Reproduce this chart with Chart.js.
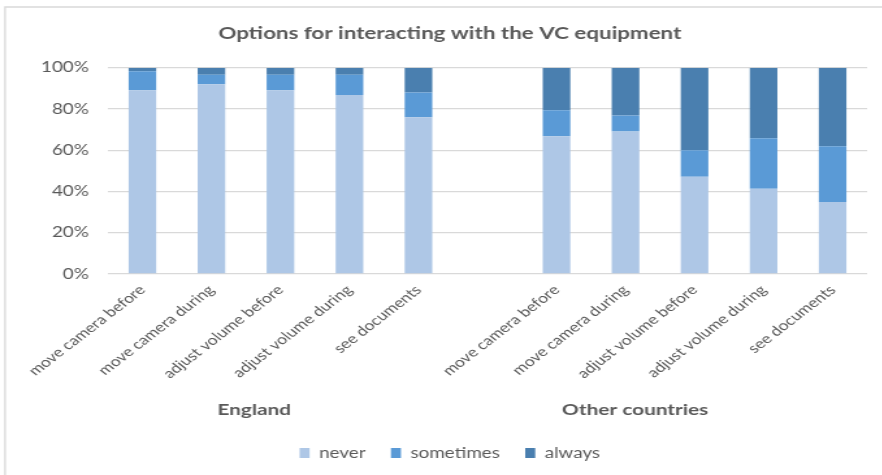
<!DOCTYPE html>
<html>
<head>
<meta charset="utf-8">
<script src="https://cdn.jsdelivr.net/npm/chart.js@4"></script>
<style>
  html, body { margin: 0; padding: 0; background: #fff; overflow: hidden; }
  #wrap { width: 882px; height: 475px; overflow: hidden; }
  /* the reference picture is a widened screenshot, so stretch the canvas the same way */
  #vc-chart { transform: scaleX(1.3); transform-origin: 0 0; }
</style>
</head>
<body>
<div id="wrap"><canvas id="vc-chart" width="692" height="475"></canvas></div>
<script>
// categories (blank slot separates the two groups)
const categories = [
    'move camera before', 'move camera during', 'adjust volume before', 'adjust volume during', 'see documents',
    '',
    'move camera before', 'move camera during', 'adjust volume before', 'adjust volume during', 'see documents'
];
const groups = ['England', 'Other countries'];

// percentages
const never     = [89.0, 92.0, 89.0, 86.7, 76.0, null, 66.7, 69.0, 47.1, 41.3, 34.9];
const sometimes = [ 9.2,  4.6,  7.6,  9.9, 11.9, null, 12.7,  7.8, 12.9, 24.5, 27.0];
const always    = [ 1.8,  3.4,  3.4,  3.4, 12.1, null, 20.6, 23.2, 40.0, 34.2, 38.1];

const yTicks = [0, 20, 40, 60, 80, 100];

const grey = '#595959';
const font = 'Lato, "Open Sans", sans-serif';

// frame lines + group labels under the rotated category labels
const extras = {
    id: 'extras',
    beforeDraw(chart) {
        const c = chart.ctx;
        c.save();
        c.strokeStyle = '#d9d9d9';
        c.lineWidth = 1.3;
        c.beginPath();
        c.moveTo(3.9, chart.height);
        c.lineTo(3.9, 7);
        c.lineTo(chart.width, 7);
        c.stroke();
        c.restore();
    },
    afterDraw(chart) {
        const x = chart.scales.x;
        const c = chart.ctx;
        const at = [1.62, 7.14]; // where the group labels sit, in category units
        c.save();
        c.fillStyle = grey;
        c.font = 'bold 16px ' + font;
        c.textAlign = 'center';
        c.textBaseline = 'middle';
        groups.forEach((g, i) => c.fillText(g, x.getPixelForValue(at[i]), 410));
        c.restore();
    }
};

const ctx = document.getElementById('vc-chart').getContext('2d');
new Chart(ctx, {
    type: 'bar',
    data: {
        labels: categories,
        datasets: [
            { label: 'never', data: never, backgroundColor: '#aec7e6' },
            { label: 'sometimes', data: sometimes, backgroundColor: '#5a9ad6' },
            { label: 'always', data: always, backgroundColor: '#4a7faf' }
        ]
    },
    options: {
        responsive: false,
        animation: false,
        layout: { padding: { left: 25, right: 25, top: 0, bottom: 4.75 } },
        datasets: { bar: { categoryPercentage: 1, barPercentage: 0.4 } },
        plugins: {
            title: {
                display: true,
                text: 'Options for interacting with the VC equipment',
                color: grey,
                font: { family: font, size: 17.2, weight: 'bold' },
                padding: { top: 23, bottom: 24 }
            },
            legend: {
                position: 'bottom',
                labels: { color: grey, font: { family: font, size: 14.5 }, boxWidth: 7.7, boxHeight: 10, padding: 19.5 }
            },
            tooltip: { enabled: false }
        },
        scales: {
            x: {
                stacked: true,
                grid: { display: false, drawTicks: false },
                border: { display: false },
                ticks: {
                    color: grey, font: { family: font, size: 13.5 },
                    minRotation: 45, maxRotation: 45, autoSkip: false, padding: 8
                },
                afterFit(s) { s.height = 152.25; }
            },
            y: {
                stacked: true,
                min: 0, max: 100,
                afterBuildTicks(s) { s.ticks = yTicks.map(v => ({ value: v })); },
                grid: { color: '#d9d9d9', lineWidth: 1.3, drawTicks: false },
                border: { display: false },
                ticks: { color: grey, font: { family: font, size: 14.5 }, padding: 14.6, callback: v => v + '%' },
                afterFit(s) { s.width = 58; }
            }
        }
    },
    plugins: [extras]
});
</script>
</body>
</html>
